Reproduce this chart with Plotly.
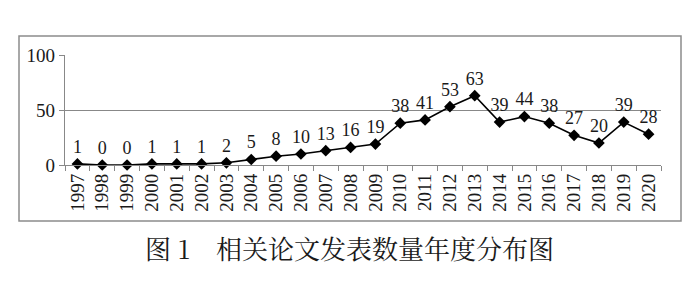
import plotly.graph_objects as go

years = [str(y) for y in range(1997, 2021)]
counts = [1, 0, 0, 1, 1, 1, 2, 5, 8, 10, 13, 16, 19, 38, 41, 53, 63, 39, 44, 38, 27, 20, 39, 28]
title_text = "图 1　相关论文发表数量年度分布图"

W, H = 700, 295
L, R, T, B = 65, 39, 55, 130
pw, ph = W - L - R, H - T - B

def px(x):
    return (x - L) / pw

def py(y):
    return (H - B - y) / ph

serif = "Liberation Serif, Times New Roman, serif"

fig = go.Figure(go.Scatter(
    x=years, y=counts, mode="lines+markers+text",
    text=[str(c) for c in counts], textposition="top center",
    textfont=dict(family=serif, size=18, color="#1a1a1a"),
    line=dict(color="black", width=1.6),
    marker=dict(symbol="diamond", size=9, color="black"),
    cliponaxis=False, showlegend=False,
))

fig.update_layout(
    width=W, height=H,
    margin=dict(l=L, r=R, t=T, b=B),
    paper_bgcolor="white", plot_bgcolor="white",
    font=dict(family=serif, size=19, color="#1a1a1a"),
    xaxis=dict(
        type="category", range=[-0.5, 23.5], tickson="boundaries",
        ticks="outside", ticklen=5, tickcolor="#888", tickwidth=1.3,
        showline=True, linecolor="#888", linewidth=1.3, showgrid=False,
        tickangle=-90, tickfont=dict(family=serif, size=19, color="#1a1a1a"),
        zeroline=False,
    ),
    yaxis=dict(
        range=[0, 100], tickvals=[0, 50, 100], ticks="outside", ticklen=5,
        tickcolor="#888", tickwidth=1.3,
        showline=True, linecolor="#888", linewidth=1.3,
        showgrid=True, gridcolor="#888", gridwidth=1.3, zeroline=False,
        tickfont=dict(family=serif, size=19, color="#1a1a1a"),
    ),
    shapes=[dict(
        type="rect", xref="paper", yref="paper",
        x0=px(19), x1=px(681), y0=py(221), y1=py(36),
        line=dict(color="#8c8c8c", width=1.5), layer="below",
    )],
    annotations=[dict(
        text=title_text, xref="paper", yref="paper",
        x=px(349), y=py(247), xanchor="center", yanchor="middle",
        showarrow=False,
        font=dict(family="Noto Serif CJK SC, Noto Sans CJK SC, serif", size=26, color="#1a1a1a"),
    )],
)

fig.write_html("out.html")
